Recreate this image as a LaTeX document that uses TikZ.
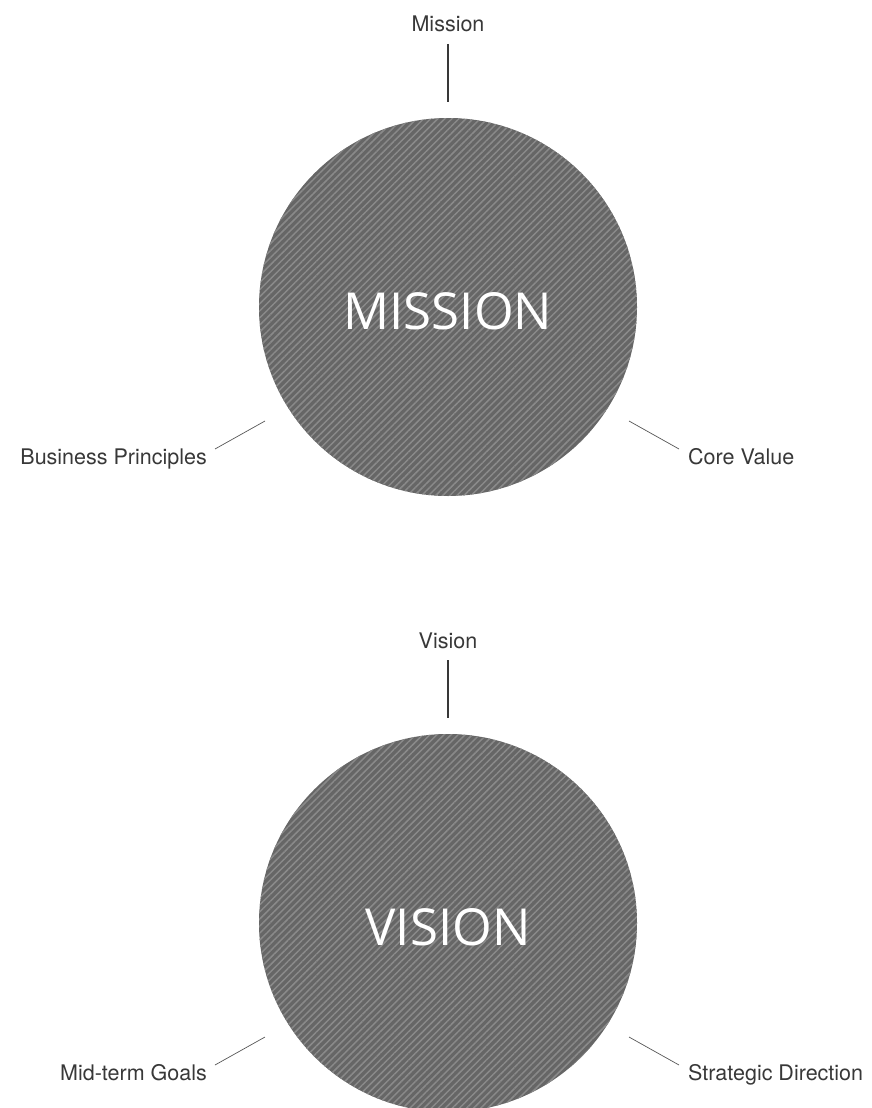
\documentclass[tikz,border=0pt]{standalone}
\usepackage{fontspec}
\setsansfont{TeX Gyre Heros}
\newfontfamily\bigfont{Open Sans}
\usepackage{tikz}
\usetikzlibrary{patterns.meta, positioning}
\definecolor{disc}{HTML}{666666}
\definecolor{hatch}{HTML}{8A8A8A}
\definecolor{ink}{HTML}{383838}
\tikzset{
    disc/.style = {circle, fill=disc, minimum size=378pt, inner sep=0pt,
                   postaction={pattern={Lines[angle=45, distance=5pt, line width=1.5pt]}, pattern color=hatch}},
    title/.style = {text=white, font=\bigfont\fontsize{51}{60}\selectfont},
    label/.style = {text=ink, font=\sffamily\fontsize{21.5}{26}\selectfont, inner sep=0pt},
    stem/.style = {ink, line width=1.2pt},
    spoke/.style = {ink!85, line width=0.7pt}
}

\begin{document}
\begin{tikzpicture}[x=1pt, y=-1pt]
  \useasboundingbox (0,0) rectangle (872,1108);

  % mission
  \node[disc] (M) at (448,307) {};
  \node[title] (Mtitle) at (448,311) {MISSION};
  \node[label, anchor=base] (Mtop) at (448,32) {Mission};
  \node[label, anchor=base east] (Mleft) at (207,464) {Business Principles};
  \node[label, anchor=base west] (Mright) at (688,464) {Core Value};
  \coordinate (Mt1) at (448,44);   \coordinate (Mt2) at (448,102);
  \coordinate (Ml1) at (215,449);  \coordinate (Ml2) at (265,421);
  \coordinate (Mr1) at (679,449);  \coordinate (Mr2) at (629,421);
  \draw[stem] (Mt1) -- (Mt2);
  \draw[spoke] (Ml1) -- (Ml2);
  \draw[spoke] (Mr1) -- (Mr2);

  % vision
  \node[disc] (V) at (448,923) {};
  \node[title] (Vtitle) at (448,927) {VISION};
  \node[label, anchor=base] (Vtop) at (448,648) {Vision};
  \node[label, anchor=base east] (Vleft) at (207,1080) {Mid-term Goals};
  \node[label, anchor=base west] (Vright) at (688,1080) {Strategic Direction};
  \coordinate (Vt1) at (448,660);  \coordinate (Vt2) at (448,718);
  \coordinate (Vl1) at (215,1065); \coordinate (Vl2) at (265,1037);
  \coordinate (Vr1) at (679,1065); \coordinate (Vr2) at (629,1037);
  \draw[stem] (Vt1) -- (Vt2);
  \draw[spoke] (Vl1) -- (Vl2);
  \draw[spoke] (Vr1) -- (Vr2);
\end{tikzpicture}
\end{document}
